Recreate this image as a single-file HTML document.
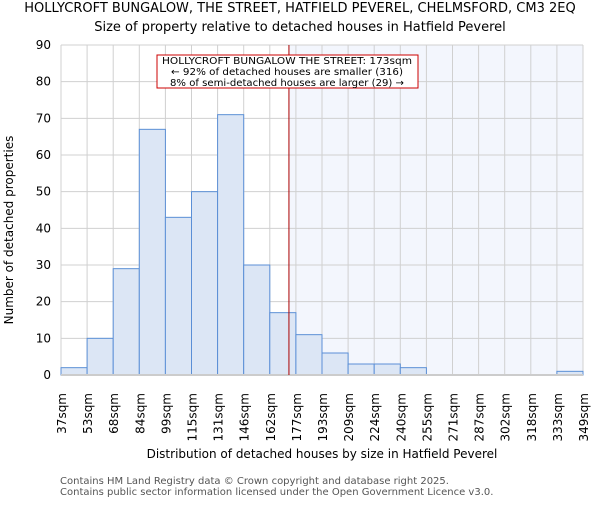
<!DOCTYPE html>
<html><head><meta charset="utf-8"><style>
body{margin:0;background:#fff;}
svg text{font-family:"DejaVu Sans","Liberation Sans",sans-serif;}
</style></head><body>
<svg id="chart" width="600" height="500" xmlns="http://www.w3.org/2000/svg">
<text x="300" y="12" font-size="13" text-anchor="middle" fill="#000">HOLLYCROFT BUNGALOW, THE STREET, HATFIELD PEVEREL, CHELMSFORD, CM3 2EQ</text>
<text x="300" y="31" font-size="13" text-anchor="middle" fill="#000">Size of property relative to detached houses in Hatfield Peverel</text>
<rect id="shade" fill="#f3f6fd"></rect>
<g id="grid"></g>
<g id="bars"></g>
<g id="ticks"></g>
<line id="marker" stroke="#aa0000" stroke-width="1"></line>
<rect x="157" y="55" width="261" height="33" fill="#fff" stroke="#cc0000" stroke-width="1"></rect>
<text x="287" y="64" font-size="10" text-anchor="middle" textLength="250" lengthAdjust="spacingAndGlyphs">HOLLYCROFT BUNGALOW THE STREET: 173sqm</text>
<text x="287" y="75" font-size="10" text-anchor="middle" textLength="232" lengthAdjust="spacingAndGlyphs">← 92% of detached houses are smaller (316)</text>
<text x="287" y="86" font-size="10" text-anchor="middle" textLength="234" lengthAdjust="spacingAndGlyphs">8% of semi-detached houses are larger (29) →</text>
<text transform="translate(13,230) rotate(-90)" font-size="12" text-anchor="middle">Number of detached properties</text>
<text x="322" y="458" font-size="12" text-anchor="middle">Distribution of detached houses by size in Hatfield Peverel</text>
<text x="60" y="484" font-size="10" fill="#555">Contains HM Land Registry data © Crown copyright and database right 2025.</text>
<text x="60" y="495" font-size="10" fill="#555">Contains public sector information licensed under the Open Government Licence v3.0.</text>
</svg>
<script>
const binLabels=["37sqm","53sqm","68sqm","84sqm","99sqm","115sqm","131sqm","146sqm","162sqm","177sqm","193sqm","209sqm","224sqm","240sqm","255sqm","271sqm","287sqm","302sqm","318sqm","333sqm","349sqm"];
const counts=[2,10,29,67,43,50,71,30,17,11,6,3,3,2,0,0,0,0,0,1];
const yTicks=[0,10,20,30,40,50,60,70,80,90];
const propertySize=173;
const binEdges=[37,53,68,84,99,115,131,146,162,177,193,209,224,240,255,271,287,302,318,333,349];
const L=61,R=583,T=45,B=375,yMax=90;
const NS="http://www.w3.org/2000/svg";
const xi=i=>L+(R-L)*i/counts.length;
const xv=v=>{const e=binEdges;for(let i=0;i<e.length-1;i++){if(v<=e[i+1])return xi(i+(v-e[i])/(e[i+1]-e[i]));}return R;};
const y=v=>B-(B-T)*v/yMax;
function mk(tag,attrs,parent){const e=document.createElementNS(NS,tag);for(const k in attrs)e.setAttribute(k,attrs[k]);document.getElementById(parent).appendChild(e);return e;}
yTicks.forEach(t=>{
 const g=mk('line',{x1:L,x2:R,y1:y(t),y2:y(t),stroke:'#d0d0d0','stroke-width':1},'grid');
 
 
 const tx=mk('text',{x:L-10,y:y(t)+4,'font-size':12,'text-anchor':'end'},'ticks');
 tx.textContent=t;
 
 
});
for(let i=0;i<=counts.length;i++){
 const g=mk('line',{x1:xi(i),x2:xi(i),y1:T,y2:B,stroke:'#d0d0d0','stroke-width':1},'grid');
 
 
}
const mx=xv(propertySize);
const sh=document.getElementById('shade');
sh.setAttribute('x',mx);sh.setAttribute('y',T);sh.setAttribute('width',R-mx);sh.setAttribute('height',B-T);
counts.forEach((c,i)=>{
 const r=mk('rect',{x:xi(i),y:y(c),width:xi(i+1)-xi(i),height:B-y(c),fill:'#dce6f5',stroke:'#5b8fd6','stroke-width':1},'bars');
 
 
});
const ax=mk('line',{x1:L,x2:R,y1:B,y2:B,stroke:'#ccc','stroke-width':2},'ticks');


binLabels.forEach((lb,i)=>{
 const tx=mk('text',{transform:`translate(${xi(i)+5},${B+18}) rotate(-90)`,'font-size':12,'text-anchor':'end'},'ticks');
 tx.textContent=lb;
 
 
});
const m=document.getElementById('marker');
m.setAttribute('x1',mx);m.setAttribute('x2',mx);m.setAttribute('y1',T);m.setAttribute('y2',B);
</script>
</body></html>
